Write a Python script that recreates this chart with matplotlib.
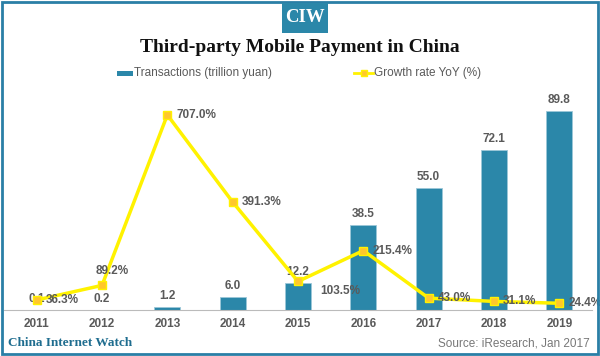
import numpy as np
import matplotlib
matplotlib.use("Agg")
import matplotlib.pyplot as plt
from matplotlib.patches import Rectangle
from matplotlib.lines import Line2D

years = ["2011", "2012", "2013", "2014", "2015", "2016", "2017", "2018", "2019"]
transactions = [0.1, 0.2, 1.2, 6.0, 12.2, 38.5, 55.0, 72.1, 89.8]
growth = [36.3, 89.2, 707.0, 391.3, 103.5, 215.4, 43.0, 31.1, 24.4]
bar_labels = ["0.1", "0.2", "1.2", "6.0", "12.2", "38.5", "55.0", "72.1", "89.8"]
growth_labels = ["36.3%", "89.2%", "707.0%", "391.3%", "103.5%", "215.4%", "43.0%", "31.1%", "24.4%"]

BLUE = "#2b87a9"
YELLOW = "#fff200"
MARK = "#ffc72c"
GREY = "#5a5a5a"
plt.rcParams["font.family"] = ["Liberation Sans", "DejaVu Sans"]

fig = plt.figure(figsize=(6.0, 3.56), dpi=100)
fig.patch.set_facecolor("white")

# marco exterior
fig.patches.append(Rectangle((0.004, 0.006), 0.992, 0.988, transform=fig.transFigure,
                             fill=False, edgecolor="#2a7fa6", linewidth=2.0))
# logo CIW
fig.patches.append(Rectangle((282 / 600, 1 - 33 / 356), 46 / 600, 30 / 356,
                             transform=fig.transFigure, facecolor=BLUE, edgecolor="none"))
fig.text(305 / 600, 1 - 18 / 356, "CIW", ha="center", va="center", color="white",
         fontsize=13.5, fontweight="bold", family="Liberation Serif")
fig.text(0.5, 1 - 47 / 356, "Third-party Mobile Payment in China", ha="center", va="center",
         fontsize=14, fontweight="bold", family="Liberation Serif", color="#111111")

x = np.arange(len(years))
ax = fig.add_axes([4 / 600, 46 / 356, 588 / 600, 210 / 356])
ax.bar(x, transactions, width=0.4, color=BLUE, edgecolor="#9cc7d8", linewidth=0.6, zorder=2)
ax.set_xlim(-0.5, len(years) - 0.5)
ax.set_ylim(0, 94.8)
ax.set_xticks(x)
ax.set_xticklabels(years, fontsize=8.5, fontweight="bold", color=GREY)
ax.tick_params(axis="x", length=0, pad=6)
ax.set_yticks([])
for s in ["top", "left", "right"]:
    ax.spines[s].set_visible(False)
ax.spines["bottom"].set_color("#bbbbbb")
ax.patch.set_alpha(0)
for xi, v, lab in zip(x, transactions, bar_labels):
    ax.annotate(lab, (xi, v), xytext=(0, 5), textcoords="offset pixels", ha="center",
                va="bottom", fontsize=8.5, fontweight="bold", color=GREY)

ax2 = ax.twinx()
ax2.set_ylim(0, 761)
ax2.set_yticks([])
for s in ax2.spines.values():
    s.set_visible(False)
ax2.plot(x, growth, color=YELLOW, linewidth=2.5, marker="s", markersize=6,
         markerfacecolor=MARK, markeredgecolor=YELLOW, markeredgewidth=1.0, zorder=3)
offsets = {1: (-6, 8, "left", "bottom"), 4: (22, -10, "left", "center")}
for i, (g, lab) in enumerate(zip(growth, growth_labels)):
    dx, dy, ha, va = offsets.get(i, (9, 0, "left", "center"))
    ax2.annotate(lab, (x[i], g), xytext=(dx, dy), textcoords="offset pixels", ha=ha,
                 va=va, fontsize=8.5, fontweight="bold", color=GREY)

# leyenda
fig.patches.append(Rectangle((117 / 600, 1 - 76 / 356), 16 / 600, 5 / 356,
                             transform=fig.transFigure, facecolor=BLUE, edgecolor="none"))
fig.text(134 / 600, 1 - 73 / 356, "Transactions (trillion yuan)", va="center",
         fontsize=8.5, color=GREY)
fig.lines.append(Line2D([354 / 600, 373 / 600], [1 - 73 / 356] * 2, transform=fig.transFigure,
                        color=YELLOW, linewidth=2))
fig.lines.append(Line2D([363.5 / 600], [1 - 73 / 356], transform=fig.transFigure,
                        linestyle="none", marker="s", markersize=4.5,
                        markerfacecolor=MARK, markeredgecolor=YELLOW))
fig.text(374 / 600, 1 - 73 / 356, "Growth rate YoY (%)", va="center", fontsize=8.5, color=GREY)

fig.text(8 / 600, 1 - 343 / 356, "China Internet Watch", va="center", fontsize=9.5,
         fontweight="bold", family="Liberation Serif", color="#1f6d8f")
fig.text(590 / 600, 1 - 343 / 356, "Source: iResearch, Jan 2017", va="center", ha="right",
         fontsize=8.5, color="#777777")

fig.savefig("out.png", dpi=100, facecolor="white")
